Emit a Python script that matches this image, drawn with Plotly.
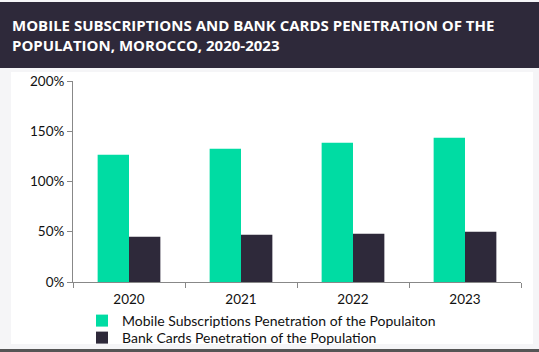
import plotly.graph_objects as go

years = ["2020", "2021", "2022", "2023"]
mobile = [126.5, 132.5, 138.5, 143.5]
bank = [45, 47, 48, 50]
series_names = ["Mobile Subscriptions Penetration of the Populaiton",
                "Bank Cards Penetration of the Population"]
y_ticks = [0, 50, 100, 150, 200]
y_tick_labels = ["0%", "50%", "100%", "150%", "200%"]
title_text = "MOBILE SUBSCRIPTIONS AND BANK CARDS PENETRATION OF THE<br>POPULATION, MOROCCO, 2020-2023"

W, H = 539, 352
L, R, T, B = 73, 18, 81, 70
PW, PH = W - L - R, H - T - B

def px(x):
    return (x - L) / PW

def py(y):
    return (H - B - y) / PH

fig = go.Figure()
fig.add_trace(go.Bar(x=years, y=mobile, name=series_names[0], marker_color="#00DCA3",
                     marker_line_width=0, legend="legend"))
fig.add_trace(go.Bar(x=years, y=bank, name=series_names[1], marker_color="#2E293A",
                     marker_line_width=0, legend="legend2"))

shapes = [
    dict(type="rect", xref="paper", yref="paper", x0=px(0), x1=px(W), y0=py(2), y1=py(68),
         fillcolor="#2E293A", line_width=0, layer="below"),
    dict(type="rect", xref="paper", yref="paper", x0=px(11), x1=px(533), y0=py(72), y1=py(344),
         fillcolor="#FFFFFF", line_width=0, layer="below"),
    dict(type="rect", xref="paper", yref="paper", x0=px(0), x1=px(W), y0=py(349), y1=py(352),
         fillcolor="#555555", line_width=0, layer="below"),
]

leg_font = dict(family="Lato, Carlito, sans-serif", size=14, color="#111111")
fig.update_layout(
    width=W, height=H,
    margin=dict(l=L, r=R, t=T, b=B, autoexpand=False),
    paper_bgcolor="#F5F5F7",
    plot_bgcolor="rgba(0,0,0,0)",
    barmode="group",
    bargap=0.44,
    bargroupgap=0,
    shapes=shapes,
    showlegend=True,
    legend=dict(x=px(82), y=py(321), xanchor="left", yanchor="middle", font=leg_font,
                bgcolor="rgba(0,0,0,0)", itemwidth=30),
    legend2=dict(x=px(82), y=py(338), xanchor="left", yanchor="middle", font=leg_font,
                 bgcolor="rgba(0,0,0,0)", itemwidth=30),
    annotations=[dict(text=title_text, xref="paper", yref="paper", x=px(10), y=py(13),
                      xanchor="left", yanchor="top", align="left", showarrow=False,
                      font=dict(family="Open Sans, sans-serif", size=15, color="#FFFFFF", weight="bold"))],
    font=dict(family="Lato, Carlito, sans-serif", size=13.5, color="#111111"),
)
fig.update_xaxes(showline=True, linecolor="#888888", linewidth=1, ticks="outside", tickson="boundaries",
                 ticklen=5, tickcolor="#888888", showgrid=False, tickfont=dict(size=13.5),
                 ticklabelstandoff=5)
fig.update_yaxes(range=[0, 200], tickvals=y_ticks, ticktext=y_tick_labels, showline=True,
                 linecolor="#888888", linewidth=1, ticks="outside", ticklen=5, tickcolor="#888888",
                 showgrid=False, zeroline=False, tickfont=dict(size=13.5))

fig.write_html("out.html")
